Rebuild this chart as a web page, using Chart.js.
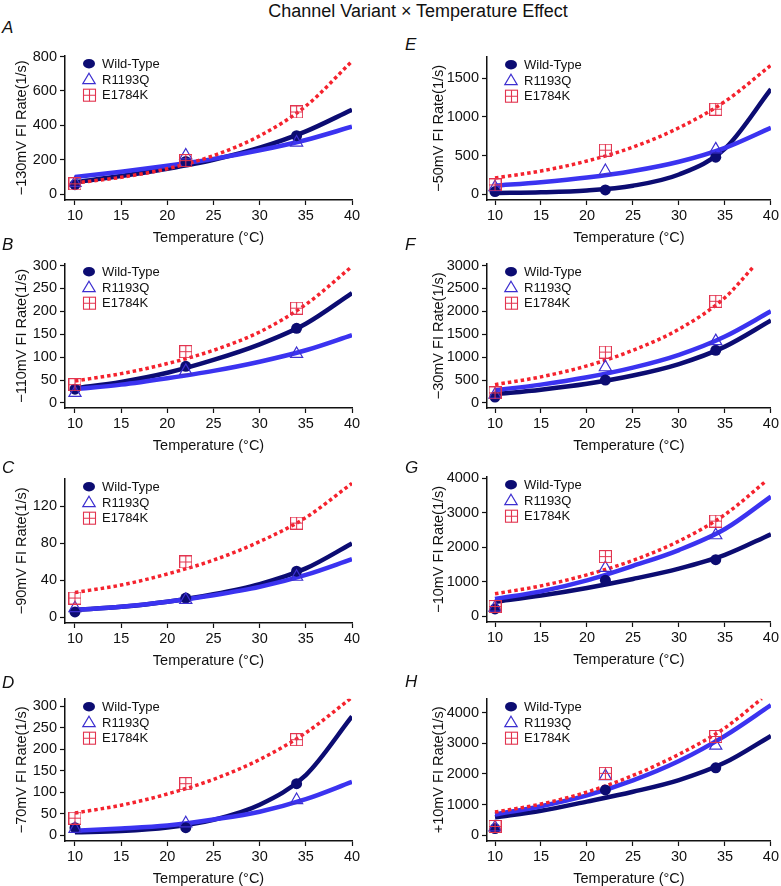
<!DOCTYPE html>
<html>
<head>
<meta charset="utf-8">
<title>Channel Variant × Temperature Effect</title>
<script src="https://cdn.jsdelivr.net/npm/chart.js@4.4.1/dist/chart.umd.min.js"></script>
<style>
  html, body { margin: 0; padding: 0; background: #fff; overflow: hidden; }
  body { width: 781px; height: 886px; position: relative; font-family: "Liberation Sans", Arial, Helvetica, sans-serif; color: #111; }
  #title { position: absolute; left: 65px; width: 706px; top: 0; line-height: 22px; font-size: 18px; text-align: center; }
  .letter { position: absolute; font-size: 17px; font-style: italic; line-height: 17px; }
  canvas { position: absolute; }
</style>
</head>
<body>
<div id="title">Channel Variant × Temperature Effect</div>
<script>
const temps = [10, 22, 34];
const fitTemps = [10, 15, 20, 25, 30, 35, 40];
const xTicks = [10, 15, 20, 25, 30, 35, 40];

const panelLetters = ['A', 'B', 'C', 'D', 'E', 'F', 'G', 'H'];
const voltages = ['−130mV', '−110mV', '−90mV', '−70mV', '−50mV', '−30mV', '−10mV', '+10mV'];

// Measured FI rates (1/s) at 10, 22, 34 °C, one row per panel A..H
const wildTypePts = [
  [55, 190, 340], [30, 80, 163], [6, 21, 50], [18, 18, 120],
  [34, 55, 480], [130, 500, 1150], [210, 1040, 1640], [220, 1480, 2200]
];
const r1193qPts = [
  [65, 225, 300], [22, 70, 107], [10, 19, 44], [15, 28, 82],
  [90, 300, 580], [180, 780, 1350], [250, 1400, 2350], [260, 1930, 2920]
];
const e1784kPts = [
  [60, 195, 478], [40, 112, 207], [21, 60, 102], [40, 120, 222],
  [120, 570, 1100], [220, 1110, 2220], [280, 1730, 2760], [290, 2020, 3220]
];

// Fitted curves read at 10, 15, ... 40 °C
const wildTypeFit = [
  [70, 105, 148, 200, 270, 365, 491],
  [32, 46, 66, 94, 128, 173, 240],
  [8, 11.5, 17, 25, 36, 53, 80],
  [7, 10, 18, 36, 71, 140, 276],
  [15, 24, 48, 110, 255, 590, 1360],
  [190, 290, 420, 600, 850, 1230, 1800],
  [420, 600, 820, 1080, 1380, 1780, 2380],
  [590, 800, 1100, 1420, 1800, 2370, 3240]
];
const r1193qFit = [
  [100, 130, 165, 205, 255, 315, 392],
  [30, 40, 54, 70, 90, 115, 148],
  [8, 11.5, 17, 24, 33, 46, 63],
  [11, 16, 23, 37, 55, 84, 124],
  [110, 155, 215, 300, 420, 600, 860],
  [280, 400, 560, 770, 1050, 1450, 2000],
  [500, 720, 1040, 1460, 1920, 2530, 3470],
  [680, 950, 1300, 1790, 2420, 3240, 4240]
];
const e1784kFit = [
  [65, 98, 148, 224, 339, 512, 773],
  [48, 64, 86, 115, 155, 215, 298],
  [27, 35, 47, 62, 82, 108, 145],
  [52, 70, 96, 130, 176, 238, 320],
  [210, 300, 430, 610, 860, 1200, 1670],
  [400, 570, 810, 1150, 1610, 2300, 2950],
  [650, 880, 1200, 1620, 2180, 2950, 3930],
  [760, 1020, 1410, 1950, 2640, 3500, 4450]
];
// the red fit stops before 40 °C in some panels
const e1784kFitEnd = [40, 40, 40, 40, 40, 38, 39.5, 39];

// y axis ranges and tick labels per panel
const yMins = [-34, -11, -6, -13, -75, -110, -170, -183];
const yMaxes = [805, 304, 150, 317, 1780, 3040, 4050, 4450];
const yTicks = [
  [0, 200, 400, 600, 800],
  [0, 50, 100, 150, 200, 250, 300],
  [0, 40, 80, 120],
  [0, 50, 100, 150, 200, 250, 300],
  [0, 500, 1000, 1500],
  [0, 500, 1000, 1500, 2000, 2500, 3000],
  [0, 1000, 2000, 3000, 4000],
  [0, 1000, 2000, 3000, 4000]
];

// where each panel's plot area sits on the page
const panelLayout = [
  { col: 0, top: 54, bottom: 200, letterTop: 18.5 },
  { col: 0, top: 262, bottom: 408, letterTop: 235.5 },
  { col: 0, top: 477, bottom: 623, letterTop: 458.5 },
  { col: 0, top: 697, bottom: 841, letterTop: 673.5 },
  { col: 1, top: 55, bottom: 200, letterTop: 35.5 },
  { col: 1, top: 262, bottom: 408, letterTop: 235.5 },
  { col: 1, top: 475, bottom: 622, letterTop: 458.5 },
  { col: 1, top: 697, bottom: 841, letterTop: 672.5 }
];

const FONT = '"Liberation Sans", Arial, Helvetica, sans-serif';
const NAVY = '#0c0c72';
const BLUE = '#3b33f0';
const TRI = '#3d2fd0';
const RED = '#f5222d';
const SQ = '#e2344f';
const INK = '#111';

Chart.defaults.font.family = FONT;

// square with a plus inside, used for E1784K
function strokeBoxCross(g, cx, cy, half) {
  g.strokeRect(cx - half, cy - half, half * 2, half * 2);
  g.beginPath();
  g.moveTo(cx, cy - half); g.lineTo(cx, cy + half);
  g.moveTo(cx - half, cy); g.lineTo(cx + half, cy);
  g.stroke();
}

function makeBoxCross(color) {
  const c = document.createElement('canvas');
  c.width = 13;
  c.height = 13;
  const g = c.getContext('2d');
  g.strokeStyle = color;
  g.lineWidth = 1.1;
  strokeBoxCross(g, 6.5, 6.5, 6);
  return c;
}
const boxCross = makeBoxCross(SQ);

// legend drawn inside the plot area, top-left
const insideLegend = {
  id: 'insideLegend',
  afterDraw(chart) {
    const { ctx, chartArea } = chart;
    const items = chart.data.datasets
      .filter(d => d.inLegend)
      .sort((a, b) => a.legendRank - b.legendRank);
    ctx.save();
    ctx.font = '13px ' + FONT;
    ctx.textBaseline = 'middle';
    items.forEach((ds, k) => {
      const y = chartArea.top + 8 + k * 15.5;
      const x = chartArea.left + 24;
      if (ds.inLegend === 'wt') {
        ctx.fillStyle = NAVY;
        ctx.beginPath();
        ctx.ellipse(x, y, 6, 4.8, 0, 0, Math.PI * 2);
        ctx.fill();
      } else if (ds.inLegend === 'r') {
        ctx.strokeStyle = TRI;
        ctx.lineWidth = 1.2;
        ctx.beginPath();
        ctx.moveTo(x, y - 6);
        ctx.lineTo(x + 6.2, y + 4.5);
        ctx.lineTo(x - 6.2, y + 4.5);
        ctx.closePath();
        ctx.stroke();
      } else {
        ctx.strokeStyle = SQ;
        ctx.lineWidth = 1.1;
        strokeBoxCross(ctx, x + 0.5, y + 0.5, 6);
      }
      ctx.fillStyle = INK;
      ctx.fillText(ds.label, chartArea.left + 37, y + 1);
    });
    ctx.restore();
  }
};

function pts(values) {
  return temps.map((t, k) => ({ x: t, y: values[k] }));
}

function fitLine(values, end) {
  return fitTemps.map((t, k) => ({ x: k === fitTemps.length - 1 ? end : t, y: values[k] }));
}

panelLetters.forEach((letter, i) => {
  const pos = panelLayout[i];
  const left = pos.col === 0 ? 0 : 390;
  const width = pos.col === 0 ? 390 : 391;
  const yAxisWidth = pos.col === 0 ? 65 : 97;
  const padRight = pos.col === 0 ? 38 : 10;
  const yTitlePad = pos.col === 0 ? 13 : 40;
  const xMin = pos.col === 0 ? 8.92 : 9.13;

  const lab = document.createElement('div');
  lab.className = 'letter';
  lab.textContent = letter;
  lab.style.left = (pos.col === 0 ? 2 : 405) + 'px';
  lab.style.top = pos.letterTop + 'px';
  document.body.appendChild(lab);

  const canvas = document.createElement('canvas');
  canvas.width = width;
  canvas.height = pos.bottom - pos.top + 10 + 47;
  canvas.style.left = left + 'px';
  canvas.style.top = (pos.top - 10) + 'px';
  document.body.appendChild(canvas);

  // first dataset is drawn on top
  const datasets = [
    { label: 'E1784K', inLegend: 'e', legendRank: 3, data: pts(e1784kPts[i]), pointStyle: boxCross, pointRadius: 6.5, borderColor: SQ },
    { label: 'R1193Q', inLegend: 'r', legendRank: 2, data: pts(r1193qPts[i]), pointStyle: 'triangle', pointRadius: 7,
      backgroundColor: 'rgba(0,0,0,0)', borderColor: TRI, borderWidth: 1.2 },
    { label: 'Wild-Type', inLegend: 'wt', legendRank: 1, data: pts(wildTypePts[i]), pointStyle: 'circle', pointRadius: 5.5,
      backgroundColor: NAVY, borderColor: NAVY, borderWidth: 0 },
    { label: 'E1784K fit', data: fitLine(e1784kFit[i], e1784kFitEnd[i]), showLine: true, pointRadius: 0,
      borderColor: RED, borderWidth: 3.5, borderDash: [3.5, 3], borderCapStyle: 'butt', cubicInterpolationMode: 'monotone' },
    { label: 'R1193Q fit', data: fitLine(r1193qFit[i], 40), showLine: true, pointRadius: 0,
      borderColor: BLUE, borderWidth: 4.5, cubicInterpolationMode: 'monotone' },
    { label: 'Wild-Type fit', data: fitLine(wildTypeFit[i], 40), showLine: true, pointRadius: 0,
      borderColor: NAVY, borderWidth: 4.5, cubicInterpolationMode: 'monotone' }
  ];

  new Chart(canvas, {
    type: 'scatter',
    data: { datasets },
    options: {
      responsive: false,
      animation: false,
      layout: { padding: { top: 10, right: padRight, bottom: 0, left: 0 } },
      plugins: { legend: { display: false }, tooltip: { enabled: false } },
      scales: {
        x: {
          type: 'linear',
          min: xMin,
          max: 40,
          afterBuildTicks: s => { s.ticks = xTicks.map(v => ({ value: v })); },
          afterFit: s => { s.height = 47; },
          grid: { drawOnChartArea: false, tickLength: 5, tickColor: INK, tickWidth: 1.2 },
          border: { color: INK, width: 1.5 },
          ticks: { color: INK, font: { size: 14.5 }, padding: 2, maxRotation: 0, callback: v => String(v) },
          title: { display: true, text: 'Temperature (°C)', color: INK, font: { size: 14.5 }, padding: { top: 0, bottom: 0 } }
        },
        y: {
          type: 'linear',
          min: yMins[i],
          max: yMaxes[i],
          afterBuildTicks: s => { s.ticks = yTicks[i].map(v => ({ value: v })); },
          afterFit: s => { s.width = yAxisWidth; },
          grid: { drawOnChartArea: false, tickLength: 5, tickColor: INK, tickWidth: 1.2 },
          border: { color: INK, width: 1.5 },
          ticks: { color: INK, font: { size: 14.5 }, padding: 3, callback: v => String(v) },
          title: { display: true, text: voltages[i] + ' FI Rate(1/s)', color: INK, font: { size: 14.5 },
            padding: { top: yTitlePad, bottom: 0 } }
        }
      }
    },
    plugins: [insideLegend]
  });
});
</script>
</body>
</html>
